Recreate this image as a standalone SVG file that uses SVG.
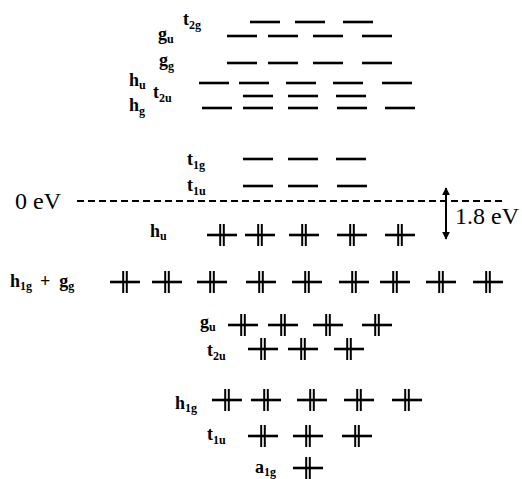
<svg xmlns="http://www.w3.org/2000/svg" width="522" height="479" viewBox="0 0 522 479">
<style>
.lv{stroke:#000;stroke-width:2.6;}
.cr line{stroke:#000;}
text{font-family:"Liberation Serif","Times New Roman",Times,serif;fill:#000;}
.lab{font-size:18px;font-weight:bold;}
.sub{font-size:12px;}
.ev{font-size:24px;}
</style>
<defs>
<line id="lvl" class="lv" x1="0" y1="0" x2="30" y2="0"/>
<g id="cross" class="cr">
<line x1="-15" y1="0" x2="15" y2="0" stroke-width="2.6"/>
<line x1="-1.8" y1="-11" x2="-1.8" y2="11" stroke-width="2"/>
<line x1="1.8" y1="-11" x2="1.8" y2="11" stroke-width="2"/>
</g>
<marker id="ah" viewBox="0 0 10 10" refX="9" refY="5" markerWidth="4" markerHeight="4" orient="auto-start-reverse">
<path d="M0,0 L10,5 L0,10 Z" fill="#000"/>
</marker>
</defs>
<rect width="522" height="479" fill="#fff"/>

<g id="t2g_top">
<text class="lab" x="183" y="25">t<tspan class="sub" dy="4">2g</tspan></text>
<use href="#lvl" x="250" y="22"/><use href="#lvl" x="295" y="22"/><use href="#lvl" x="343" y="22"/>
</g>
<g id="gu_top">
<text class="lab" x="158" y="40">g<tspan class="sub" dy="3">u</tspan></text>
<use href="#lvl" x="227" y="36"/><use href="#lvl" x="268" y="36"/><use href="#lvl" x="313" y="36"/><use href="#lvl" x="362" y="36"/>
</g>
<g id="gg_top">
<text class="lab" x="159" y="66">g<tspan class="sub" dy="4">g</tspan></text>
<use href="#lvl" x="227" y="63"/><use href="#lvl" x="268" y="63"/><use href="#lvl" x="313" y="63"/><use href="#lvl" x="362" y="63"/>
</g>
<g id="hu_top">
<text class="lab" x="129" y="86">h<tspan class="sub" dy="3">u</tspan></text>
<use href="#lvl" x="199" y="83"/><use href="#lvl" x="239" y="83"/><use href="#lvl" x="286" y="83"/><use href="#lvl" x="333" y="83"/><use href="#lvl" x="382" y="83"/>
</g>
<g id="t2u_top">
<text class="lab" x="153" y="98">t<tspan class="sub" dy="4">2u</tspan></text>
<use href="#lvl" x="243" y="96"/><use href="#lvl" x="288" y="96"/><use href="#lvl" x="336" y="96"/>
</g>
<g id="hg_top">
<text class="lab" x="129" y="111">h<tspan class="sub" dy="4">g</tspan></text>
<use href="#lvl" x="202" y="108"/><use href="#lvl" x="243" y="108"/><use href="#lvl" x="288" y="108"/><use href="#lvl" x="337" y="108"/><use href="#lvl" x="385" y="108"/>
</g>
<g id="t1g">
<text class="lab" x="187" y="165">t<tspan class="sub" dy="4">1g</tspan></text>
<use href="#lvl" x="243" y="159"/><use href="#lvl" x="288" y="159"/><use href="#lvl" x="336" y="159"/>
</g>
<g id="t1u_top">
<text class="lab" x="187" y="191">t<tspan class="sub" dy="4">1u</tspan></text>
<use href="#lvl" x="243" y="186"/><use href="#lvl" x="288" y="186"/><use href="#lvl" x="337" y="186"/>
</g>

<g id="fermi">
<text class="ev" x="15" y="209">0 eV</text>
<line x1="77" y1="201" x2="503" y2="201" stroke="#000" stroke-width="2" stroke-dasharray="7 4"/>
</g>

<g id="connectors">
<line x1="446" y1="188" x2="446" y2="239" stroke="#000" stroke-width="2" marker-start="url(#ah)" marker-end="url(#ah)"/>
<text class="ev" x="455" y="224">1.8 eV</text>
</g>

<g id="hu_occ">
<text class="lab" x="150" y="237">h<tspan class="sub" dy="3">u</tspan></text>
<use href="#cross" x="222" y="235"/><use href="#cross" x="260" y="235"/><use href="#cross" x="304" y="235"/><use href="#cross" x="352" y="235"/><use href="#cross" x="400" y="235"/>
</g>
<g id="h1g_gg">
<text class="lab" x="10" y="287">h<tspan class="sub" dy="3">1g</tspan><tspan dy="-3" dx="8">+</tspan><tspan dx="9">g</tspan><tspan class="sub" dy="3">g</tspan></text>
<use href="#cross" x="125" y="282"/><use href="#cross" x="167" y="282"/><use href="#cross" x="212" y="282"/><use href="#cross" x="261" y="282"/><use href="#cross" x="307" y="282"/><use href="#cross" x="354" y="282"/><use href="#cross" x="395" y="282"/><use href="#cross" x="441" y="282"/><use href="#cross" x="488" y="282"/>
</g>
<g id="gu_occ">
<text class="lab" x="200" y="328">g<tspan class="sub" dy="3">u</tspan></text>
<use href="#cross" x="243" y="325"/><use href="#cross" x="283" y="325"/><use href="#cross" x="328" y="325"/><use href="#cross" x="377" y="325"/>
</g>
<g id="t2u_occ">
<text class="lab" x="207" y="356">t<tspan class="sub" dy="4">2u</tspan></text>
<use href="#cross" x="263" y="349"/><use href="#cross" x="303" y="349"/><use href="#cross" x="349" y="349"/>
</g>
<g id="h1g_occ">
<text class="lab" x="175" y="409">h<tspan class="sub" dy="3">1g</tspan></text>
<use href="#cross" x="227" y="400"/><use href="#cross" x="266" y="400"/><use href="#cross" x="312" y="400"/><use href="#cross" x="359" y="400"/><use href="#cross" x="407" y="400"/>
</g>
<g id="t1u_occ">
<text class="lab" x="207" y="440">t<tspan class="sub" dy="4">1u</tspan></text>
<use href="#cross" x="263" y="436"/><use href="#cross" x="308" y="436"/><use href="#cross" x="357" y="436"/>
</g>
<g id="a1g">
<text class="lab" x="255" y="473">a<tspan class="sub" dy="3">1g</tspan></text>
<use href="#cross" x="308" y="468"/>
</g>
</svg>
